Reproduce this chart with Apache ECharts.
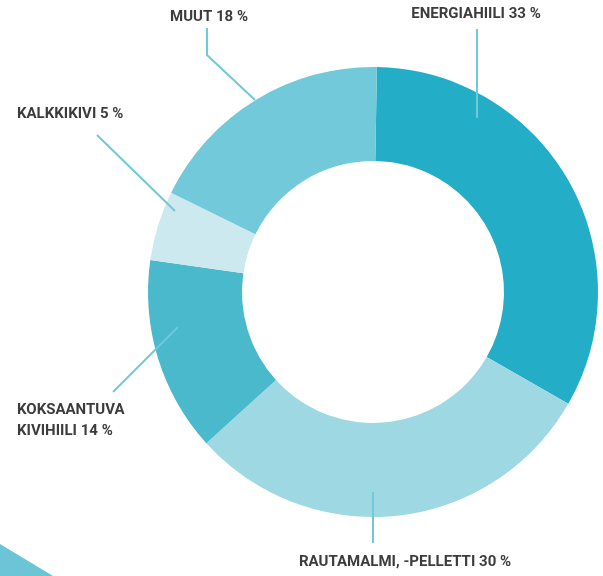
<!DOCTYPE html>
<html>
<head>
<meta charset="utf-8">
<script src="https://cdn.jsdelivr.net/npm/echarts@6/dist/echarts.min.js"></script>
<style>
  html, body { margin: 0; padding: 0; background: #fff; }
  #chart { width: 603px; height: 576px; }
</style>
</head>
<body>
<div id="chart"></div>
<script>
const categories = ['ENERGIAHIILI', 'RAUTAMALMI, -PELLETTI', 'KOKSAANTUVA\nKIVIHIILI', 'KALKKIKIVI', 'MUUT'];
const shares = [33, 30, 14, 5, 18];
const colors = ['#23adc6', '#9ed9e3', '#4ab9cc', '#cbe9ee', '#71c9d9'];

const cx = 373, cy = 292;
const lineColor = '#70c9d8';

// label anchor + leader line points, per slice (same order as categories)
const labelPos = [
  { x: 476, y: 14, align: 'center', line: [[477, 118], [477, 29]] },
  { x: 405, y: 562, align: 'center', line: [[373, 492], [373, 543]] },
  { x: 17, y: 421, align: 'left', line: [[178, 327], [113, 392]] },
  { x: 17, y: 114, align: 'left', line: [[175, 211], [97, 135]] },
  { x: 209, y: 17, align: 'center', line: [[255, 100], [207, 55], [207, 28]] }
];

const chart = echarts.init(document.getElementById('chart'), null, { renderer: 'canvas' });

// leader lines sit on top of the ring, so draw them as graphic polylines
const leaders = labelPos.map(l => ({
  type: 'polyline',
  silent: true,
  z: 10,
  shape: { points: l.line },
  style: { stroke: lineColor, lineWidth: 2, fill: null }
}));

chart.setOption({
  animation: false,
  backgroundColor: '#fff',
  graphic: [{
    type: 'polygon',
    silent: true,
    z: 0,
    shape: { points: [[0, 544], [53, 576], [0, 576]] },
    style: { fill: '#6cc5d6' }
  }].concat(leaders),
  series: [{
    type: 'pie',
    center: [cx, cy],
    radius: [131, 225],
    startAngle: 89,
    clockwise: true,
    silent: true,
    avoidLabelOverlap: false,
    emphasis: { disabled: true },
    data: categories.map((name, i) => ({
      name,
      value: shares[i],
      itemStyle: { color: colors[i] }
    })),
    label: {
      show: true,
      position: 'outside',
      formatter: p => p.name + ' ' + p.value + ' %',
      fontFamily: 'Roboto',
      fontWeight: 'bold',
      fontSize: 15,
      lineHeight: 21,
      color: '#3c3c3c'
    },
    labelLine: { show: false },
    labelLayout: params => {
      const l = labelPos[params.dataIndex];
      return {
        x: l.x,
        y: l.y,
        align: l.align,
        verticalAlign: 'middle'
      };
    }
  }]
});
</script>
</body>
</html>
